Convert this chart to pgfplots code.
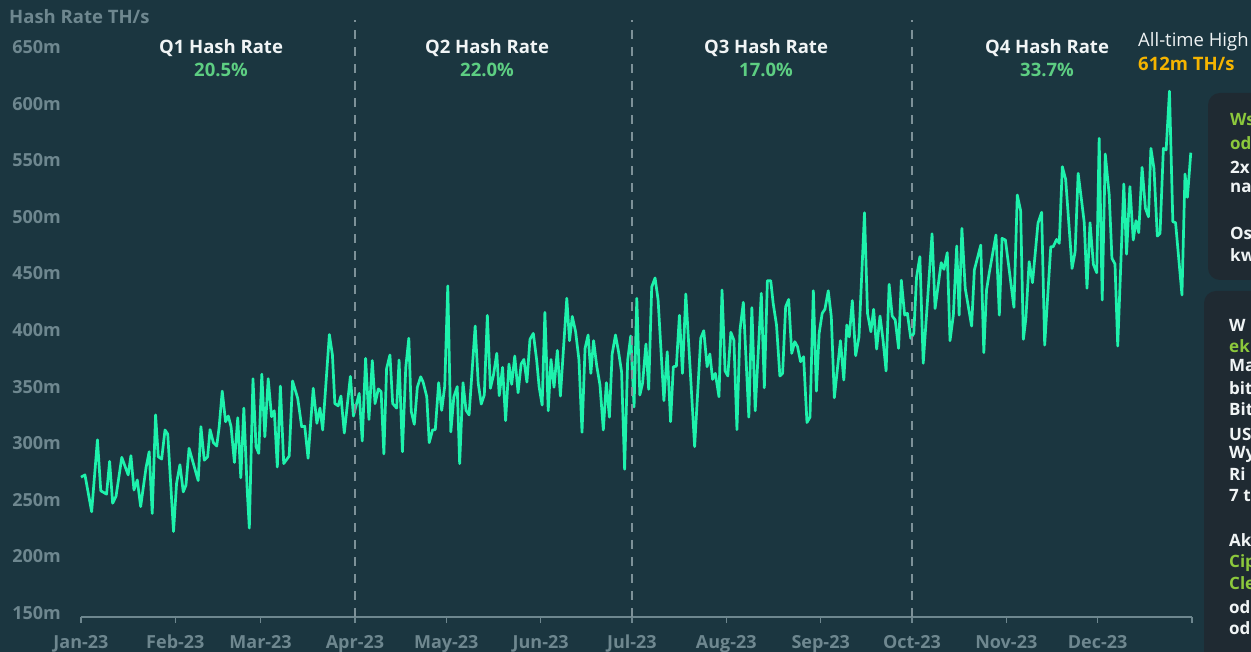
\documentclass[border=0pt]{standalone}
\usepackage{pgfplots}
\pgfplotsset{compat=1.18}
\usetikzlibrary{backgrounds}
\usepackage{fontspec}
\setmainfont{Open Sans}
\definecolor{bg}{RGB}{27,54,64}
\definecolor{panel}{RGB}{31,42,50}
\definecolor{linecol}{RGB}{30,242,172}
\definecolor{tickgray}{RGB}{110,135,143}
\definecolor{dashgray}{RGB}{125,145,152}
\definecolor{pctgreen}{RGB}{93,206,130}
\definecolor{lime}{RGB}{140,200,60}
\definecolor{orng}{RGB}{245,180,0}
\definecolor{wht}{RGB}{240,244,245}
\newcommand\lab{\fontsize{18.5}{22}\selectfont\bfseries}
\newcommand\tlab{\fontsize{18}{22}\selectfont\bfseries}
\newcommand\pan{\fontsize{17}{20}\selectfont\bfseries}
\begin{document}
\begin{tikzpicture}
\begin{axis}[anchor=south west, scale only axis,
  width=1111pt, height=570pt,
  xmin=0, xmax=365, ymin=146.5, ymax=650,
  clip=false,
  axis line style={draw=none},
  xtick={0,31,59,90,120,151,181,212,243,273,304,334,365},
  xticklabels={Jan-23,Feb-23,Mar-23,Apr-23,May-23,Jun-23,Jul-23,Aug-23,Sep-23,Oct-23,Nov-23,Dec-23,{}},
  ytick={150,200,250,300,350,400,450,500,550,600,650},
  yticklabels={150m,200m,250m,300m,350m,400m,450m,500m,550m,600m,650m},
  xtick pos=left, tick align=outside, major tick length=6pt,
  xtick style={draw=tickgray, line width=1.5pt},
  ytick style={draw=none},
  ticklabel style={font=\tlab, text=tickgray, inner sep=0pt},
  xticklabel style={anchor=north}, xticklabel shift=12pt,
  yticklabel style={anchor=east}, yticklabel shift=14pt,
]
\coordinate (O) at (axis cs:0,146.5);
\draw[tickgray, line width=1.5pt] (axis cs:0,146.5) -- (axis cs:365,146.5);
\addplot[linecol, line width=2.7pt, line join=round, mark=none] coordinates {
(0,270) (1.3,272) (3.5,239.5) (5.4,303) (6.5,258) (8.4,255) (9.4,284) (10.4,247)
(11.5,253) (13.4,287.5) (15.5,272) (16.4,289) (17.4,258.7) (18.5,267.5) (19.6,244)
(21.4,279) (22.4,292.5) (23.4,238) (24.5,325) (25.4,288) (26.5,286) (27.6,311.7)
(28.5,308) (30.4,222) (31.4,264.6) (32.5,281) (33.6,257) (34.5,263) (35.5,295.5)
(38.5,267) (39.4,314.6) (40.5,285) (41.6,288) (42.4,312) (43.5,300.5) (44.6,297.5)
(45.4,314.6) (46.4,346) (47.5,319) (48.4,324) (49.3,314.6) (50.4,283) (51.5,322.5)
(52.5,269.5) (53.5,331) (54.6,258.7) (55.3,225) (56.5,357) (57.5,297) (58.4,291)
(59.4,361) (60.4,305.7) (61.5,357) (62.6,323.4) (63.5,328.7) (64.5,279) (65.5,350.5)
(66.6,282) (68.4,288.7) (69.5,355) (71.2,339.7) (72.5,314.6) (73.5,315) (74.6,286.7)
(76.3,348.5) (77.5,317.6) (78.5,331) (79.4,311.7) (81.6,396) (82.6,378) (83.4,335)
(84.5,333) (85.4,341.7) (86.5,309) (88.5,359) (89.5,324) (91.4,344) (92.4,302)
(93.5,375) (94.6,321) (95.7,373) (96.6,335) (97.7,348) (98.6,345.5) (99.5,290.5)
(100.4,366) (101.5,378) (102.4,335) (103.7,331) (104.5,373.5) (105.6,292.5) (106.7,367)
(107.7,392.7) (108.5,328) (109.5,316.7) (110.5,349.4) (111.6,358.7) (112.4,354)
(113.6,341) (114.4,300.5) (115.5,311.7) (116.4,312) (117.5,353.5) (118.5,329)
(119.5,350.5) (120.5,439) (121.5,310) (122.5,341) (123.6,350) (124.4,282) (125.5,353.5)
(126.5,329) (127.5,325) (129.5,403.5) (130.5,353) (131.5,334.6) (132.5,342.6) (133.5,413)
(134.5,348.5) (135.5,360) (136.6,379.4) (137.4,342) (138.5,367) (139.5,320) (140.6,370)
(141.5,352) (142.5,377) (143.6,344.6) (144.6,370) (145.5,374) (146.5,354) (147.5,391.8)
(148.6,397) (149.7,373.5) (150.5,350) (151.5,333.7) (152.4,415.6) (153.5,328.7)
(154.4,374) (155.4,349.4) (156.5,382) (157.5,341.7) (158.5,383) (159.6,428) (160.5,390.6)
(161.4,412) (162.5,398.5) (163.6,373.5) (164.6,309.6) (165.6,383.8) (166.6,395.6)
(167.5,361.7) (168.4,390.6) (169.4,369) (170.5,351.4) (171.6,311.7) (172.6,353.5)
(173.6,323) (174.5,378.8) (175.6,395.6) (176.6,380.8) (177.6,363) (178.6,277)
(179.6,373.5) (180.6,394.7) (181.7,332) (182.6,428) (183.6,342.6) (184.5,353)
(185.6,387.6) (186.5,347.6) (187.5,438) (188.6,446) (189.6,426.5) (191.5,337.6)
(192.6,380.8) (193.7,319) (194.6,367.6) (195.6,368) (196.6,413) (197.6,361.7)
(198.7,431.8) (201.6,297) (203.6,392.7) (204.6,399.4) (205.7,367.6) (206.6,378.8)
(207.5,356.4) (208.4,361.7) (209.6,341) (210.6,435.3) (211.6,363.8) (212.5,359.4)
(213.5,398) (214.5,391) (215.5,312) (216.5,400) (217.6,424.5) (218.5,373.5) (219.4,323)
(220.4,419.7) (221.5,328.7) (223.5,432.4) (224.5,349) (225.5,443.6) (226.6,443.6)
(227.4,423.6) (228.5,404.4) (229.6,359.4) (230.5,361.7) (231.5,420.6) (232.5,427)
(233.5,379.4) (234.5,389.7) (235.4,385.3) (236.4,372) (237.4,376.4) (238.5,318.3)
(239.5,323) (240.6,434.7) (241.6,346) (242.5,397) (243.5,414.7) (244.4,418.3)
(245.5,434.7) (246.5,411.7) (247.5,340.2) (249.5,390.6) (250.6,355.8) (251.6,404.4)
(252.4,394) (253.4,426) (254.5,377.3) (255.6,394) (257.4,503.6) (258.4,414.7)
(259.5,398.5) (260.4,418.3) (261.4,383.2) (262.5,412.4) (263.5,391) (264.5,363.8)
(265.5,440.4) (266.5,412.4) (267.5,408.8) (268.6,383.8) (269.5,444) (270.6,413.2)
(271.5,414.7) (272.6,392.7) (273.6,397) (274.5,446.5) (275.6,464.8) (276.7,370.6)
(279.6,485) (280.6,419) (282.6,459.5) (283.5,453.6) (284.6,468.3) (285.5,390.6)
(286.6,413.2) (287.7,474.2) (288.5,413.2) (289.4,489.8) (290.5,436.8) (292.6,403.5)
(293.5,453) (295.6,475) (296.6,380) (297.5,435.3) (298.4,450.6) (300.6,484)
(301.7,413.2) (302.6,481) (303.7,479.5) (306.5,420) (307.6,519.3) (308.7,505.4)
(309.6,391.8) (310.4,409.5) (311.5,460.4) (312.6,441.8) (314.4,494.3) (315.6,504)
(316.6,386.7) (318.6,473.6) (319.4,473.6) (320.5,480) (321.4,476.6) (322.4,544.3)
(323.5,533) (325.6,454.4) (326.6,469) (327.6,538.4) (328.7,514.8) (329.6,494.8)
(330.5,436.8) (331.5,494.8) (332.6,458) (333.7,450.6) (334.5,569.3) (335.5,426.5)
(336.5,555.5) (337.8,519.3) (338.7,463.3) (339.7,458.3) (340.6,385.9) (342.6,529)
(343.5,467) (344.6,526.7) (345.7,479.5) (346.6,496.6) (347.5,486) (348.6,543.7)
(349.7,507.5) (350.7,500) (351.5,560.4) (352.5,542.8) (353.6,483) (354.5,485.4)
(355.6,560.4) (356.5,559) (357.6,611) (358.7,495.7) (359.6,494.8) (361.7,431)
(362.7,537.8) (363.5,517.2) (364.6,556.6)
};
\draw[dashgray, line width=2pt, dash pattern=on 9pt off 8pt] (axis cs:90,146.5) -- (axis cs:90,674);
\draw[dashgray, line width=2pt, dash pattern=on 9pt off 8pt] (axis cs:181,146.5) -- (axis cs:181,674);
\draw[dashgray, line width=2pt, dash pattern=on 9pt off 8pt] (axis cs:273,146.5) -- (axis cs:273,674);
\end{axis}
\begin{pgfonlayer}{background}
\begin{scope}[shift={(O)}, xshift=-81pt, yshift=-35pt, x=1pt, y=1pt]
\fill[bg] (0,0) rectangle (1251,652);
\fill[panel, rounded corners=12pt] (1208,559) rectangle (1320,372);
\fill[panel, rounded corners=12pt] (1204,361) rectangle (1320,-30);
\end{scope}
\end{pgfonlayer}
\begin{scope}[shift={(O)}, xshift=-81pt, yshift=-35pt, x=1pt, y=1pt]
\node[font=\lab, text=tickgray, anchor=west, inner sep=0pt] at (9,635) {Hash Rate TH/s};
\node[font=\lab, text=wht, inner sep=0pt] at (221,604) {Q1 Hash Rate};
\node[font=\lab, text=pctgreen, inner sep=0pt] at (221,582) {20.5\%};
\node[font=\lab, text=wht, inner sep=0pt] at (487,604) {Q2 Hash Rate};
\node[font=\lab, text=pctgreen, inner sep=0pt] at (487,582) {22.0\%};
\node[font=\lab, text=wht, inner sep=0pt] at (766,604) {Q3 Hash Rate};
\node[font=\lab, text=pctgreen, inner sep=0pt] at (766,582) {17.0\%};
\node[font=\lab, text=wht, inner sep=0pt] at (1047,604) {Q4 Hash Rate};
\node[font=\lab, text=pctgreen, inner sep=0pt] at (1047,582) {33.7\%};
\node[font=\fontsize{18.5}{22}\selectfont, text=wht, anchor=west, inner sep=0pt] at (1138,610) {All-time High};
\node[font=\lab, text=orng, anchor=west, inner sep=0pt] at (1138,588) {612m TH/s};
\foreach \t/\y/\c in {Ws/532/lime, od/509/lime, 2x/485/wht, na/464/wht, Os/419/wht, kw/397/wht}
  {\node[font=\pan, text=\c, anchor=west, inner sep=0pt] at (1230,\y) {\t};}
\foreach \t/\y/\c in {W/327/wht, ek/306/lime, Ma/286/wht, bit/264/wht, Bit/243/wht, US/218/wht, Wy/198/wht, Ri/178/wht, 7 t/156/wht, Ak/112/wht, Cip/89/lime, Cle/69/lime, od/45/wht, od/24/wht}
  {\node[font=\pan, text=\c, anchor=west, inner sep=0pt] at (1229,\y) {\t};}
\end{scope}
\pgfresetboundingbox
\path[use as bounding box, shift={(O)}, xshift=-81pt, yshift=-35pt, x=1pt, y=1pt] (0,0) rectangle (1251,652);
\end{tikzpicture}
\end{document}
